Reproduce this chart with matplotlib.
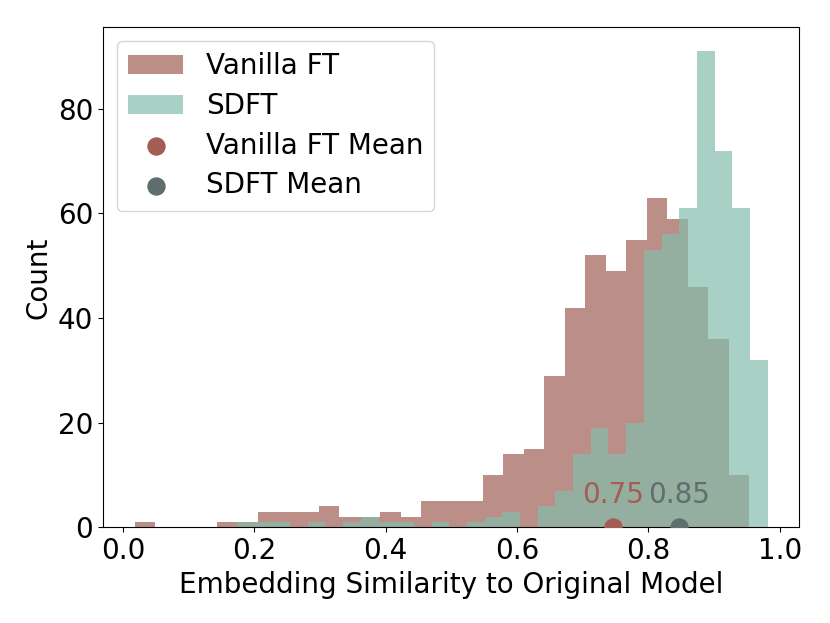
import numpy as np
import matplotlib
matplotlib.use("Agg")
import matplotlib.pyplot as plt

# histogram counts (30 bins each)
vanilla_counts = [1, 0, 0, 0, 1, 1, 3, 3, 3, 4,
                  2, 2, 3, 2, 5, 5, 5, 10, 14, 15,
                  29, 42, 52, 49, 55, 63, 59, 46, 36, 10]
vanilla_range = (0.0178, 0.9538)

sdft_counts = [1, 1, 1, 0, 1, 0, 1, 2, 1, 1,
               0, 1, 0, 1, 2, 3, 0, 4, 7, 14,
               19, 14, 20, 53, 56, 61, 91, 72, 61, 32]
sdft_range = (0.1738, 0.9817)

vanilla_mean = 0.746
sdft_mean = 0.847

vanilla_color = "#9f5f55"
sdft_color = "#84bdab"
vanilla_mean_color = "#a35d54"
sdft_mean_color = "#5f6e6e"


def hist_from_counts(ax, counts, rng, **kw):
    edges = np.linspace(rng[0], rng[1], len(counts) + 1)
    centers = (edges[:-1] + edges[1:]) / 2
    return ax.hist(centers, bins=edges, weights=counts, **kw)


fig = plt.figure(figsize=(8.3, 6.23), dpi=100)
ax = fig.add_subplot(111)
fig.subplots_adjust(left=0.124, right=0.963, bottom=0.1536, top=0.956)

hist_from_counts(ax, vanilla_counts, vanilla_range, color=vanilla_color,
                 alpha=0.7, label="Vanilla FT")
hist_from_counts(ax, sdft_counts, sdft_range, color=sdft_color,
                 alpha=0.7, label="SDFT")

ax.scatter([vanilla_mean], [0], s=150, color=vanilla_mean_color,
           zorder=3, label="Vanilla FT Mean")
ax.scatter([sdft_mean], [0], s=150, color=sdft_mean_color,
           zorder=3, label="SDFT Mean")

ax.text(vanilla_mean, 4.6, f"{vanilla_mean:.2f}", color=vanilla_mean_color,
        fontsize=20, ha="center", va="baseline")
ax.text(sdft_mean, 4.6, f"{sdft_mean:.2f}", color=sdft_mean_color,
        fontsize=20, ha="center", va="baseline")

ax.set_xlabel("Embedding Similarity to Original Model", fontsize=20)
ax.set_ylabel("Count", fontsize=20)
ax.tick_params(labelsize=20)
ax.legend(fontsize=20, loc="upper left", labelspacing=0.42)

fig.savefig("out.png", dpi=100)
